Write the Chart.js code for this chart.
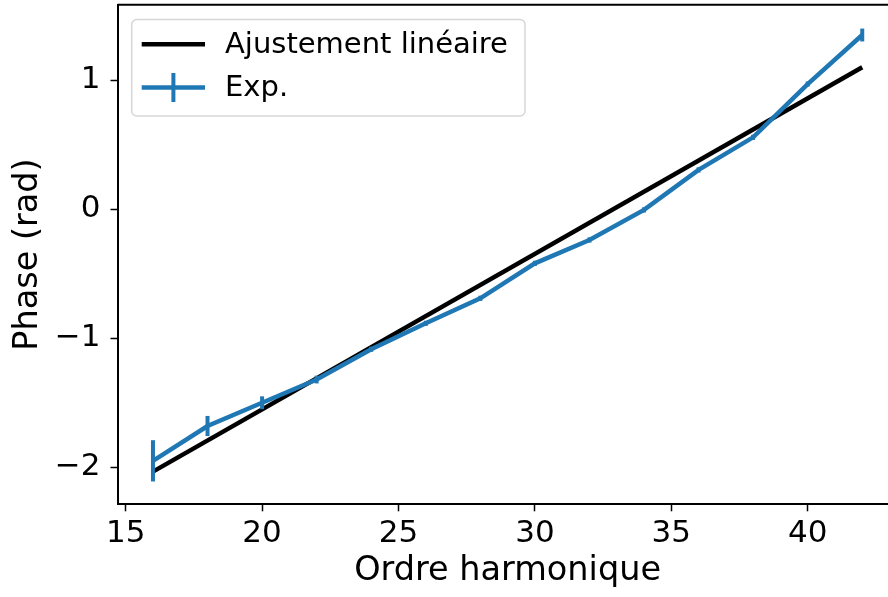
<!DOCTYPE html>
<html>
<head>
<meta charset="utf-8">
<script src="https://cdn.jsdelivr.net/npm/chart.js@4.4.1/dist/chart.umd.min.js"></script>
<style>
    html, body { margin: 0; padding: 0; background: #fff; overflow: hidden; }
    #wrap { position: absolute; left: 0; top: 0; width: 900px; height: 597px; }
</style>
</head>
<body>
<div id="wrap"><canvas id="chart"></canvas></div>
<script>
// values
const harmonicOrders = [16, 18, 20, 22, 24, 26, 28, 30, 32, 34, 36, 38, 40, 42];
const phaseValues = [-1.95, -1.68, -1.50, -1.32, -1.085, -0.884, -0.69, -0.419, -0.238, -0.005, 0.305, 0.558, 0.971, 1.351];
const phaseErrors = [0.16, 0.078, 0.05, 0.03, 0.02, 0.02, 0.02, 0.02, 0.02, 0.02, 0.02, 0.02, 0.02, 0.05];
const fitOrders = [16, 42];
const fitValues = [-2.034, 1.101];
const xTicks = [15, 20, 25, 30, 35, 40];
const yTicks = [-2, -1, 0, 1];

const BLUE = "#1f77b4";
const FONT = "'DejaVu Sans', sans-serif";

const toPoints = (xs, ys) => xs.map((x, i) => ({ x, y: ys[i] }));

// top/right spines (matplotlib frame)
const framePlugin = {
    id: "frame",
    afterDraw(chart) {
        const { ctx, chartArea: a } = chart;
        ctx.save();
        ctx.strokeStyle = "#000";
        ctx.lineWidth = 2;
        ctx.beginPath();
        ctx.moveTo(a.left, a.top);
        ctx.lineTo(a.right, a.top);
        ctx.lineTo(a.right, a.bottom);
        ctx.stroke();
        ctx.restore();
    },
};

// vertical error bars for the Exp. series, positioned through the scales
const errorBarPlugin = {
    id: "errorBars",
    afterDatasetsDraw(chart) {
        const { ctx, scales } = chart;
        ctx.save();
        ctx.strokeStyle = BLUE;
        ctx.lineWidth = 4;
        harmonicOrders.forEach((x, i) => {
            const px = scales.x.getPixelForValue(x);
            const top = scales.y.getPixelForValue(phaseValues[i] + phaseErrors[i]);
            const bottom = scales.y.getPixelForValue(phaseValues[i] - phaseErrors[i]);
            ctx.beginPath();
            ctx.moveTo(px, top);
            ctx.lineTo(px, bottom);
            ctx.stroke();
        });
        ctx.restore();
    },
};

// matplotlib-like legend box in the upper left corner
const legendPlugin = {
    id: "mplLegend",
    afterDraw(chart) {
        const { ctx } = chart;
        const left = 131.7, top = 19.5, width = 393.3, height = 96.5, r = 5;
        ctx.save();
        ctx.fillStyle = "rgba(255,255,255,0.8)";
        ctx.strokeStyle = "#d6d6d6";
        ctx.lineWidth = 1.5;
        ctx.beginPath();
        ctx.roundRect(left, top, width, height, r);
        ctx.fill();
        ctx.stroke();

        const entries = [
            { label: "Ajustement linéaire", color: "#000", y: 44.3, err: false },
            { label: "Exp.", color: BLUE, y: 87.5, err: true },
        ];
        ctx.font = "29px " + FONT;
        ctx.textBaseline = "middle";
        entries.forEach((e) => {
            ctx.strokeStyle = e.color;
            ctx.lineWidth = 4.5;
            ctx.beginPath();
            ctx.moveTo(141.7, e.y);
            ctx.lineTo(205, e.y);
            ctx.stroke();
            if (e.err) {
                ctx.lineWidth = 4;
                ctx.beginPath();
                ctx.moveTo(173.4, e.y - 14.5);
                ctx.lineTo(173.4, e.y + 14.5);
                ctx.stroke();
            }
            ctx.fillStyle = "#000";
            ctx.fillText(e.label, 225, e.y + 1);
        });
        ctx.restore();
    },
};

new Chart(document.getElementById("chart").getContext("2d"), {
    type: "scatter",
    data: {
        datasets: [
            {
                label: "Ajustement linéaire",
                data: toPoints(fitOrders, fitValues),
                showLine: true,
                borderColor: "#000",
                backgroundColor: "#000",
                borderWidth: 4.5,
                pointRadius: 0,
                order: 2,
            },
            {
                label: "Exp.",
                data: toPoints(harmonicOrders, phaseValues),
                showLine: true,
                borderColor: BLUE,
                backgroundColor: BLUE,
                borderWidth: 4.5,
                pointRadius: 0,
                order: 1,
            },
        ],
    },
    options: {
        responsive: true,
        maintainAspectRatio: false,
        devicePixelRatio: 1,
        animation: false,
        layout: { padding: { top: 4.7, right: 2.3, left: 0, bottom: 0 } },
        plugins: {
            legend: { display: false },
            tooltip: { enabled: false },
        },
        scales: {
            x: {
                type: "linear",
                min: 14.7,
                max: 43.3,
                afterBuildTicks: (scale) => {
                    scale.ticks = xTicks.map((v) => ({ value: v }));
                },
                afterFit: (scale) => {
                    scale.height = 92.7;
                    scale.paddingLeft = 0;
                    scale.paddingRight = 0;
                },
                grid: {
                    drawOnChartArea: false,
                    drawTicks: true,
                    tickLength: 7,
                    tickColor: "#000",
                    tickWidth: 1.5,
                },
                border: { display: true, color: "#000", width: 2 },
                ticks: {
                    color: "#000",
                    font: { family: FONT, size: 31 },
                    padding: 4,
                    maxRotation: 0,
                },
                title: {
                    display: true,
                    text: "Ordre harmonique",
                    color: "#000",
                    font: { family: FONT, size: 33.5 },
                    padding: { top: 0, bottom: 6 },
                },
            },
            y: {
                type: "linear",
                min: -2.287,
                max: 1.586,
                afterBuildTicks: (scale) => {
                    scale.ticks = yTicks.map((v) => ({ value: v }));
                },
                afterFit: (scale) => {
                    scale.width = 117.5;
                    scale.paddingTop = 0;
                    scale.paddingBottom = 0;
                },
                grid: {
                    drawOnChartArea: false,
                    drawTicks: true,
                    tickLength: 7,
                    tickColor: "#000",
                    tickWidth: 1.5,
                },
                border: { display: true, color: "#000", width: 2 },
                ticks: {
                    color: "#000",
                    font: { family: FONT, size: 31 },
                    padding: 10,
                    callback: (v) => String(v).replace("-", "\u2212"),
                },
                title: {
                    display: true,
                    text: "Phase (rad)",
                    color: "#000",
                    font: { family: FONT, size: 33.5 },
                    padding: { top: 8, bottom: 0 },
                },
            },
        },
    },
    plugins: [framePlugin, errorBarPlugin, legendPlugin],
});
</script>
</body>
</html>
